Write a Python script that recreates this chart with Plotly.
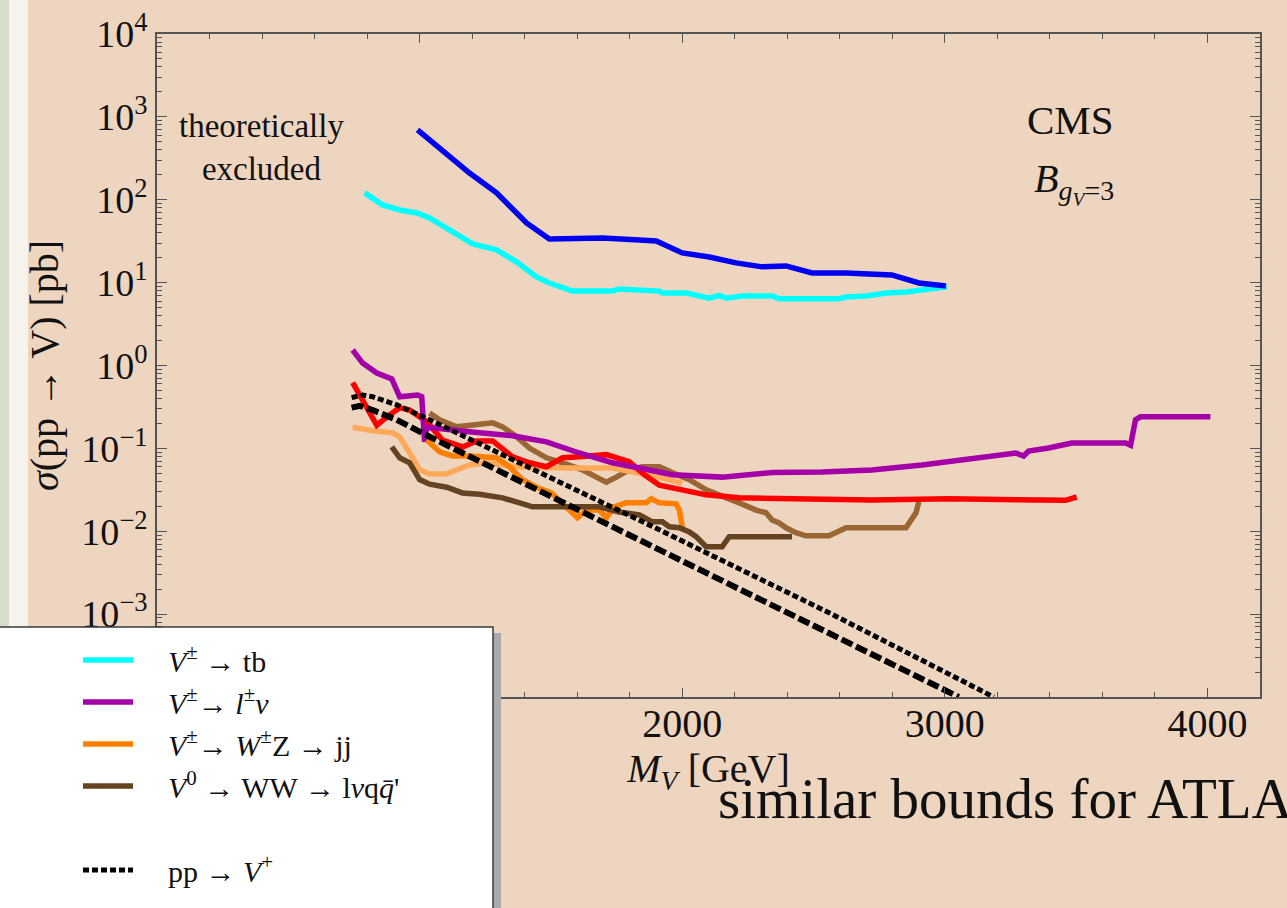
import plotly.graph_objects as go

# ---------------- data ----------------
# dark blue curve
mass_blue = [992, 1103, 1190, 1293, 1407, 1494, 1597, 1696, 1837, 1901, 2000, 2103,
             2205, 2304, 2395, 2494, 2624, 2798, 2901, 3004]
sigma_blue = [695, 347, 210, 121, 52.5, 33.7, 33.7, 34.6, 32.7, 31.8, 22.8, 20.4,
              17.3, 15.5, 15.9, 13.1, 13.1, 12.4, 9.9, 9.1]

# cyan: V+- -> tb
mass_tb = [791, 859, 924, 989, 1038, 1114, 1202, 1293, 1369, 1445, 1494, 1582, 1734,
           1760, 1913, 1924, 2015, 2103, 2141, 2167, 2228, 2342, 2369, 2597, 2624,
           2700, 2776, 2852, 2928, 3008]
sigma_tb = [121, 86.5, 75.3, 69.3, 60.3, 43.2, 29.3, 24.8, 17.8, 11.7, 9.9, 7.9, 7.9,
            8.4, 7.9, 7.5, 7.5, 6.5, 7.0, 6.5, 6.9, 6.9, 6.4, 6.4, 6.7,
            6.9, 7.5, 7.7, 8.2, 8.9]

# purple: V+- -> l nu
mass_lnu = [745, 783, 837, 894, 924, 992, 1008, 1019, 1027, 1103, 1228, 1354, 1483,
            1608, 1734, 1837, 1962, 2152, 2342, 2532, 2722, 2913, 3015, 3141, 3270,
            3300, 3319, 3395, 3483, 3688, 3707, 3726, 3745, 4011]
sigma_lnu = [1.54, 1.07, 0.81, 0.69, 0.42, 0.44, 0.42, 0.12, 0.18, 0.172, 0.154, 0.142,
             0.120, 0.088, 0.067, 0.058, 0.048, 0.045, 0.051, 0.052, 0.055, 0.063,
             0.069, 0.079, 0.088, 0.081, 0.093, 0.101, 0.116, 0.116, 0.109, 0.221,
             0.240, 0.240]

# red curve
mass_red = [745, 783, 837, 875, 924, 962, 1027, 1087, 1163, 1217, 1278, 1354, 1418,
            1483, 1544, 1608, 1711, 1798, 1856, 1913, 2091, 2217, 2471, 2722, 3015,
            3460, 3502]
sigma_red = [0.62, 0.38, 0.19, 0.24, 0.31, 0.29, 0.21, 0.126, 0.104, 0.123, 0.123,
             0.079, 0.067, 0.060, 0.077, 0.079, 0.084, 0.069, 0.048, 0.036, 0.0275,
             0.0253, 0.0247, 0.0239, 0.0247, 0.0236, 0.0259]

# light orange curve
mass_lorange = [745, 821, 897, 924, 962, 1000, 1038, 1103, 1141, 1190, 1255, 1369,
                1544, 1734, 1913, 2000]
sigma_lorange = [0.18, 0.163, 0.154, 0.138, 0.088, 0.055, 0.049, 0.049, 0.055, 0.063,
                 0.067, 0.060, 0.058, 0.058, 0.045, 0.038]

# orange: V+- -> W+- Z -> jj
mass_jj = [1027, 1076, 1125, 1190, 1293, 1342, 1392, 1445, 1502, 1544, 1582, 1601,
           1635, 1684, 1711, 1741, 1787, 1863, 1882, 1913, 1977, 1989, 2000]
sigma_jj = [0.126, 0.091, 0.081, 0.081, 0.077, 0.060, 0.042, 0.034, 0.029, 0.022,
            0.017, 0.0145, 0.018, 0.018, 0.0145, 0.0197, 0.022, 0.022, 0.0246, 0.022,
            0.0214, 0.018, 0.0113]

# dark brown: V0 -> WW -> l nu q qbar'
mass_ww = [894, 924, 962, 1000, 1038, 1103, 1163, 1228, 1316, 1380, 1430, 1544, 1684,
           1760, 1837, 1886, 1924, 1951, 1989, 2027, 2053, 2091, 2152, 2179, 2418]
sigma_ww = [0.104, 0.077, 0.067, 0.042, 0.037, 0.034, 0.029, 0.028, 0.0253, 0.022,
            0.0197, 0.0197, 0.0197, 0.0171, 0.0158, 0.013, 0.013, 0.0113, 0.011,
            0.0098, 0.0086, 0.0065, 0.0065, 0.0086, 0.0086]

# medium brown curve
mass_mbrown = [1038, 1076, 1141, 1217, 1278, 1316, 1369, 1418, 1483, 1544, 1620, 1673,
               1711, 1749, 1798, 1848, 1913, 1962, 2027, 2091, 2152, 2217, 2281, 2319,
               2342, 2369, 2395, 2433, 2471, 2559, 2624, 2852, 2890, 2901]
sigma_mbrown = [0.268, 0.221, 0.182, 0.197, 0.203, 0.182, 0.138, 0.101, 0.077, 0.067,
                0.055, 0.045, 0.039, 0.045, 0.055, 0.060, 0.060, 0.051, 0.042, 0.0316,
                0.026, 0.022, 0.018, 0.0167, 0.0137, 0.0126, 0.011, 0.0096, 0.0088,
                0.0088, 0.011, 0.011, 0.0167, 0.0227]

# black dotted: pp -> V+
mass_ppvp = [741, 783, 821, 913, 1038, 1475, 1913, 2559, 3186]
sigma_ppvp = [0.41, 0.44, 0.42, 0.335, 0.221, 0.048, 0.0104, 0.00104, 0.0001]

# black dashed (second production curve)
mass_ppv2 = [741, 772, 821, 913, 1038, 1475, 1913, 2483, 3053]
sigma_ppv2 = [0.31, 0.326, 0.29, 0.221, 0.138, 0.029, 0.0060, 0.00079, 0.0001]

x_tickvals = [1000, 2000, 3000, 4000]
x_ticktext = ["1000", "2000", "3000", "4000"]
y_tickvals = [1e-4, 1e-3, 1e-2, 1e-1, 1, 10, 100, 1e3, 1e4]
y_ticktext = ["10<sup>−4</sup>", "10<sup>−3</sup>", "10<sup>−2</sup>", "10<sup>−1</sup>",
              "10<sup>0</sup>", "10<sup>1</sup>", "10<sup>2</sup>", "10<sup>3</sup>",
              "10<sup>4</sup>"]

# ---------------- layout constants ----------------
W, H = 1287, 908
L, R, T, B = 157, 1260, 34, 697
BG = "#EED5C0"
SERIF = "Liberation Serif, Times New Roman, serif"
PAD = "\u00a0\u00a0\u00a0\u00a0"


def px_x(px):
    return (px - L) / (R - L)


def px_y(py):
    return (B - py) / (B - T)


fig = go.Figure()


def add(x, y, color, width, name=None, dash=None, rank=None, show=False):
    fig.add_trace(go.Scatter(
        x=x, y=y, mode="lines", name=(PAD + name) if name else "",
        line=dict(color=color, width=width, dash=dash),
        showlegend=show, legendrank=rank if rank else 1000,
        hoverinfo="skip"))


LW = 5.5
add(mass_tb, sigma_tb, "#00FFFF", LW, "<i>V</i><sup>±</sup> → tb", rank=1, show=True)
add(mass_blue, sigma_blue, "#0000F0", LW)
add(mass_mbrown, sigma_mbrown, "#9A6634", LW)
add(mass_lorange, sigma_lorange, "#FFA95A", LW)
add(mass_red, sigma_red, "#FF0000", LW)
add(mass_lnu, sigma_lnu, "#A400A8", LW, "<i>V</i><sup>±</sup>→ <i>l</i><sup>±</sup><i>ν</i>",
    rank=2, show=True)
add(mass_jj, sigma_jj, "#FF8000", LW, "<i>V</i><sup>±</sup>→ <i>W</i><sup>±</sup>Z → jj",
    rank=3, show=True)
add(mass_ww, sigma_ww, "#654321", LW, "<i>V</i><sup>0</sup> → WW → l<i>ν</i>q<i>q̄</i>'",
    rank=4, show=True)
add(mass_ppv2, sigma_ppv2, "#000000", 6, dash="12px,4px")
add(mass_ppvp, sigma_ppvp, "#000000", 5, "pp → <i>V</i><sup>+</sup>", dash="6px,3px",
    rank=6, show=True)
# blank spacer row in the legend
fig.add_trace(go.Scatter(x=[None], y=[None], mode="lines", name="\u00a0",
                         line=dict(color="rgba(0,0,0,0)", width=1),
                         showlegend=True, legendrank=5, hoverinfo="skip"))

shapes = [
    # torn paper strip on the left edge
    dict(type="rect", xref="paper", yref="paper", x0=px_x(-5), x1=px_x(9),
         y0=px_y(H + 5), y1=px_y(-5), fillcolor="#D5DDCB", line=dict(width=0),
         layer="below"),
    dict(type="rect", xref="paper", yref="paper", x0=px_x(9), x1=px_x(28),
         y0=px_y(H + 5), y1=px_y(-5), fillcolor="#F6F3EC", line=dict(width=0),
         layer="below"),
    # legend panel shadow and panel
    dict(type="rect", xref="paper", yref="paper", x0=px_x(493), x1=px_x(501),
         y0=px_y(H + 5), y1=px_y(633), fillcolor="#ABABAB", line=dict(width=0),
         layer="above"),
    dict(type="rect", xref="paper", yref="paper", x0=px_x(-5), x1=px_x(493),
         y0=px_y(H + 5), y1=px_y(627), fillcolor="#FFFFFF",
         line=dict(color="#3A3A3A", width=1.5), layer="above"),
]

annotations = [
    dict(x=399, y=2.625, xref="x", yref="y", text="theoretically<br>excluded",
         showarrow=False, font=dict(family=SERIF, size=33, color="#111")),
    dict(x=3478, y=2.963, xref="x", yref="y", text="CMS", showarrow=False,
         font=dict(family=SERIF, size=41, color="#111")),
    dict(x=3490, y=2.2, xref="x", yref="y",
         text="<i>B</i><sub><i>g</i><sub><i>V</i></sub>=3</sub>", showarrow=False,
         font=dict(family=SERIF, size=40, color="#111")),
    dict(x=px_x(716), y=px_y(799), xref="paper", yref="paper", xanchor="left",
         yanchor="middle", text="similar bounds for ATLAS", showarrow=False,
         font=dict(family=SERIF, size=57, color="#111")),
]

axis_common = dict(
    showline=True, linecolor="#555555", linewidth=1.5, mirror="allticks",
    ticks="inside", tickcolor="#555555", showgrid=False, zeroline=False,
)

fig.update_layout(
    width=W, height=H,
    margin=dict(l=L, r=W - R, t=T, b=H - B, autoexpand=False),
    paper_bgcolor=BG, plot_bgcolor=BG,
    font=dict(family=SERIF, color="#111"),
    shapes=shapes, annotations=annotations,
    showlegend=True,
    legend=dict(x=px_x(78), y=px_y(634), xanchor="left", yanchor="top",
                bgcolor="rgba(0,0,0,0)", borderwidth=0, itemwidth=50,
                font=dict(family=SERIF, size=30, color="#111"),
                traceorder="normal"),
    xaxis=dict(axis_common, range=[0, 4200], tickvals=x_tickvals,
               ticktext=x_ticktext, ticklen=9, tickwidth=1.2,
               ticklabelstandoff=-10,
               minor=dict(ticks="inside", dtick=200, tick0=0, ticklen=5,
                          tickcolor="#555555"),
               tickfont=dict(family=SERIF, size=40, color="#111"),
               title=dict(text="<i>M</i><sub><i>V</i></sub> [GeV]",
                          font=dict(family=SERIF, size=40, color="#111"),
                          standoff=2)),
    yaxis=dict(axis_common, type="log", range=[-4, 4], tickvals=y_tickvals,
               ticktext=y_ticktext, ticklen=10, tickwidth=1.2,
               minor=dict(ticks="inside", dtick="D1", ticklen=5,
                          tickcolor="#555555"),
               tickfont=dict(family=SERIF, size=38, color="#111"),
               title=dict(text="<i>σ</i>(pp → V) [pb]",
                          font=dict(family=SERIF, size=40, color="#111"),
                          standoff=10)),
)

fig.write_html("out.html")
